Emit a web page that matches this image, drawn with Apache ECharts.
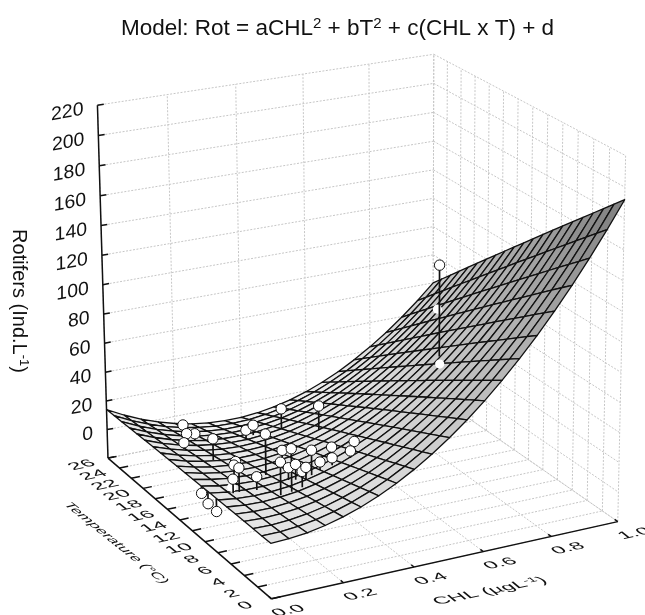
<!DOCTYPE html>
<html><head><meta charset="utf-8"><style>html,body{margin:0;padding:0;background:#fff}#c{width:645px;height:615px}</style>
<script src="https://cdn.jsdelivr.net/npm/echarts@6/dist/echarts.min.js"></script></head>
<body><div id="c"></div><script>
const chlTicks=[0,0.2,0.4,0.6,0.8,1.0];
const chlLabels=['0.0','0.2','0.4','0.6','0.8','1.0'];
const tempTicks=[0,2,4,6,8,10,12,14,16,18,20,22,24,26];
const rotTicks=[-20,0,20,40,60,80,100,120,140,160,180,200,220];
const coefA=176,coefB=-0.003,coefC=-5.0,coefD=16;
const chlValues=[0.177,0.171,0.147,0.095,0.131,0.302,0.329,0.194,0.404,0.437,0.148,0.125,0.079,0.060,0.125,0,0,0,0.277,0.188,0.157,0.219,0.232,0.220,0.248,0.272,0.300,0.363,0.331,0.405,0.374,0.722];
const tempValues=[23.3,21.0,21.0,18.5,15.8,19.9,20.2,11.0,19.7,15.6,13.2,12.2,8.9,8.8,8.7,10.4,9.4,8.1,12.9,6.8,6.8,8.9,8.5,6.9,7.8,8.2,8.4,9.9,8.2,8.7,7.7,11.9];
const rotValues=[4.2,6.2,7.4,12.1,22.4,6.3,7.5,39.1,17.1,31.3,15.2,17.4,29.3,23.1,21.9,10.9,7.6,7.1,17.7,44.1,36.7,22.7,25.7,27.2,25.4,34.3,24.4,26.2,26.4,32.1,30.7,125.9];
const hiddenChl=[0.885,0.698,0.067];
const hiddenTemp=[19.9,10.7,9.4];
const hiddenRot=[64.8,64.2,15.2];

const corners=[[0,0,0,272,598],[1,0,0,616,523],[0,1,0,107,459],[0,1,1,98,105],[1,0,1,627,155],[1,1,1,432,55],[1,1,0,435,392]];
function fitP(){const A=[],B=[];corners.forEach(([u,v,w,X,Y])=>{A.push([u,v,w,1,0,0,0,0,-X*u,-X*v,-X*w]);B.push(X);A.push([0,0,0,0,u,v,w,1,-Y*u,-Y*v,-Y*w]);B.push(Y);});
 const n=11,M=[];for(let i=0;i<n;i++){M[i]=[];for(let j=0;j<=n;j++){let s=0;for(let k=0;k<A.length;k++)s+=A[k][i]*(j<n?A[k][j]:B[k]);M[i][j]=s;}}
 for(let i=0;i<n;i++){let p=i;for(let r=i+1;r<n;r++)if(Math.abs(M[r][i])>Math.abs(M[p][i]))p=r;[M[i],M[p]]=[M[p],M[i]];for(let r=0;r<n;r++)if(r!==i){const f=M[r][i]/M[i][i];for(let c=i;c<=n;c++)M[r][c]-=f*M[i][c];}}
 return M.map((r,i)=>r[n]/r[i]);}
const P=fitP();
function proj(chl,T,z){const u=chl,v=T/26,w=(z+20)/240,h=P[8]*u+P[9]*v+P[10]*w+1;return [(P[0]*u+P[1]*v+P[2]*w+P[3])/h,(P[4]*u+P[5]*v+P[6]*w+P[7])/h];}
const model=(c,T)=>coefA*c*c+coefB*T*T+coefC*c*T+coefD;

const seg=[];
function L(a,b){seg.push([a,b]);}
rotTicks.forEach(z=>{L([0,26,z],[1,26,z]);L([1,26,z],[1,0,z]);});
chlTicks.forEach(c=>{L([c,26,-20],[c,26,220]);L([c,0,-20],[c,26,-20]);});
tempTicks.forEach(T=>{L([1,T,-20],[1,T,220]);L([0,T,-20],[1,T,-20]);});
const ax=[];
ax.push([[0,26,-20],[0,26,220]],[[0,26,-20],[0,0,-20]],[[0,0,-20],[1,0,-20]]);
rotTicks.forEach(z=>ax.push([[0,26,z],[0.018,26,z]]));
tempTicks.forEach(T=>ax.push([[0,T,-20],[0.025,T,-20]]));
chlTicks.forEach(c=>ax.push([[c,0,-20],[c,0.4,-20]]));
const cells=[];const N=20;for(let i=N-1;i>=0;i--)for(let j=N-1;j>=0;j--)cells.push([i,j]);

function aff(x,y,text,font,align,m,rich){const [a,b,c,d]=m;const E=(a+d)/2,F=(a-d)/2,G=(c+b)/2,H=(c-b)/2,Q=Math.hypot(E,H),R=Math.hypot(F,G),a1=Math.atan2(G,F),a2=Math.atan2(H,E),th=(a2-a1)/2,ph=(a2+a1)/2;
 return {type:'group',x,y,rotation:-ph,scaleX:Q+R,scaleY:Q-R,children:[{type:'text',rotation:-th,style:{text,font,fill:'#111',align,verticalAlign:'middle',rich}}]};}
const floorM=[1.2,0.62,-0.26,0.5];
const F18='18px "Liberation Sans"';
const sup={s:{font:'12px "Liberation Sans"',fill:'#111',padding:[0,0,8,0]}};
const texts=[];
chlTicks.forEach((c,i)=>{const p=proj(c,0,-20);texts.push([p[0]+17,p[1]+12,chlLabels[i],F18,'center',floorM]);});
tempTicks.forEach(T=>{const p=proj(0,T,-20);texts.push([p[0]-26,p[1]+7,String(T),F18,'center',floorM]);});
rotTicks.slice(1).forEach(z=>{const p=proj(0,26,z);texts.push([p[0]-14,p[1]+4,String(z),F18,'right',[1.08,0,-0.2,1.05]]);});
texts.push([116,543,'Temperature (°C)',F18,'center',[0.72,-0.72,0.58,0.17]]);
texts.push([490,591,'CHL (µgL{s|-1})',F18,'center',[1.18,0.6,-0.24,0.5],sup]);

const opt={animation:false,grid:{left:0,right:0,top:0,bottom:0},
 title:{text:'Model: Rot = aCHL{s|2} + bT{s|2} + c(CHL x T) + d',left:116,top:11,textStyle:{fontFamily:'Liberation Sans',fontWeight:'normal',fontSize:22.5,color:'#111',rich:{s:{fontSize:15,color:'#111',fontFamily:'Liberation Sans',padding:[0,0,10,0]}}}},
 xAxis:{type:'value',min:0,max:645,show:false},yAxis:{type:'value',min:0,max:615,inverse:true,show:false},
 series:[
 {type:'custom',z:1,silent:true,clip:false,data:seg.map((s,i)=>[i]),renderItem:(p,api)=>{const s=seg[p.dataIndex],a=api.coord(proj(...s[0])),b=api.coord(proj(...s[1]));return {type:'line',shape:{x1:a[0],y1:a[1],x2:b[0],y2:b[1]},style:{stroke:'#c6c6c6',lineWidth:1,lineDash:[2,1.5]}};}},
 {type:'custom',z:2,silent:true,clip:false,data:cells,renderItem:(p,api)=>{const [i,j]=cells[p.dataIndex];const q=[[i,j],[i+1,j],[i+1,j+1],[i,j+1]];let zs=0;const poly=q.map(([a,b])=>{const c=a/N,T=b/N*26,z=model(c,T);zs+=z;return api.coord(proj(c,T,z));});const g=Math.round(244-(zs/4+10)/200*118);return {type:'polygon',shape:{points:poly},style:{fill:`rgb(${g},${g},${g})`,stroke:'#111',lineWidth:1.3,lineJoin:'round'}};}},
 {type:'custom',z:3,silent:true,clip:false,data:ax.map((s,i)=>[i]),renderItem:(p,api)=>{const s=ax[p.dataIndex],a=api.coord(proj(...s[0])),b=api.coord(proj(...s[1]));return {type:'line',shape:{x1:a[0],y1:a[1],x2:b[0],y2:b[1]},style:{stroke:'#111',lineWidth:1.5}};}},
 {type:'custom',z:4,silent:true,clip:false,data:hiddenChl.map((s,i)=>[i]),renderItem:(p,api)=>{const i=p.dataIndex,a=api.coord(proj(hiddenChl[i],hiddenTemp[i],hiddenRot[i]));return {type:'circle',shape:{cx:a[0],cy:a[1],r:4.6},style:{fill:'#fff'}};}},
 {type:'custom',z:5,silent:true,clip:false,data:chlValues.map((s,i)=>[i]),renderItem:(p,api)=>{const i=p.dataIndex,c=chlValues[i],T=tempValues[i],a=api.coord(proj(c,T,rotValues[i])),b=api.coord(proj(c,T,model(c,T)));return {type:'group',children:[{type:'line',shape:{x1:a[0],y1:a[1],x2:b[0],y2:b[1]},style:{stroke:'#111',lineWidth:1.7}},{type:'circle',shape:{cx:a[0],cy:a[1],r:5.2},style:{fill:'#fff',stroke:'#111',lineWidth:1}}]};}},
 {type:'custom',z:6,silent:true,clip:false,data:texts.map((s,i)=>[i]),renderItem:(p,api)=>{const t=texts[p.dataIndex],a=api.coord([t[0],t[1]]);return aff(a[0],a[1],t[2],t[3],t[4],t[5],t[6]);}},
 {type:'custom',z:6,silent:true,clip:false,data:[[0]],renderItem:(p,api)=>{const a=api.coord([19,301]);return {type:'text',x:a[0],y:a[1],rotation:-Math.PI/2,style:{text:'Rotifers (Ind.L{s|-1})',font:'20px "Liberation Sans"',fill:'#111',align:'center',verticalAlign:'middle',rich:{s:{font:'13px "Liberation Sans"',fill:'#111',padding:[0,0,9,0]}}}};}}
 ]};
echarts.init(document.getElementById('c'),null,{renderer:'canvas'}).setOption(opt);
</script></body></html>
